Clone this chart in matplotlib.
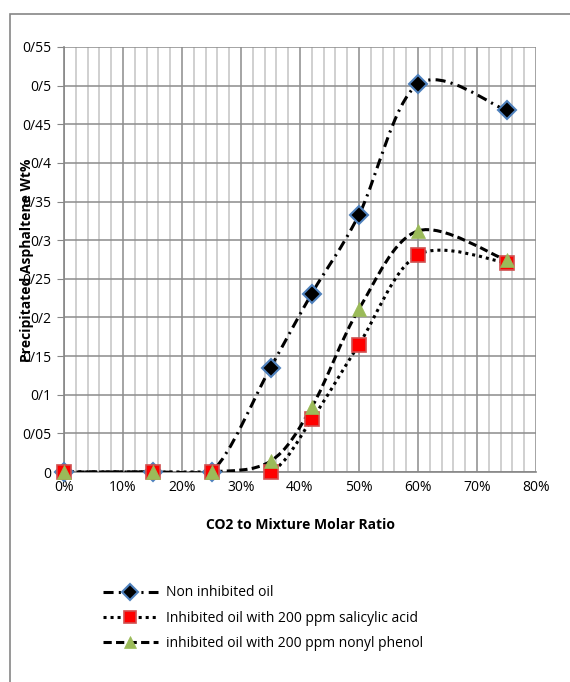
import matplotlib
matplotlib.use("Agg")
import matplotlib.pyplot as plt
from matplotlib.path import Path
from matplotlib.patches import PathPatch, Rectangle
from matplotlib.lines import Line2D
from matplotlib.ticker import MultipleLocator, FuncFormatter
import numpy as np

plt.rcParams['font.family'] = ['Open Sans', 'DejaVu Sans']

# data
co2_ratio = [0, 15, 25, 35, 42, 50, 60, 75]   # percent
non_inhibited = [0, 0, 0, 0.135, 0.231, 0.333, 0.502, 0.468]
salicylic = [0, 0, 0, 0, 0.068, 0.165, 0.281, 0.271]
nonyl_phenol = [0, 0, 0, 0.014, 0.084, 0.211, 0.312, 0.274]

labels = ["Non inhibited oil",
          "Inhibited oil with 200 ppm salicylic acid",
          "inhibited oil with 200 ppm nonyl phenol"]


def smooth_path(xs, ys):
    # Excel style smoothed line: cubic bezier segments through the points
    pts = np.column_stack([xs, ys]).astype(float)
    ext = np.vstack([pts[0], pts, pts[-1]])
    verts = [pts[0]]
    codes = [Path.MOVETO]
    for i in range(len(pts) - 1):
        p0, p1, p2, p3 = ext[i], ext[i + 1], ext[i + 2], ext[i + 3]
        verts += [p1 + (p2 - p0) / 6, p2 - (p3 - p1) / 6, p2]
        codes += [Path.CURVE4] * 3
    return Path(verts, codes)


fig = plt.figure(figsize=(5.7, 6.82), dpi=100)
ax = fig.add_axes([64 / 570, 1 - 472 / 682, 472 / 570, 425 / 682])

# outer chart frame (only top and left edges are inside the picture)
fig.patches.append(Rectangle((10 / 570, -0.05), 1.2, 1 - 14 / 682 + 0.05, transform=fig.transFigure,
                             fill=False, edgecolor='#868686', linewidth=1.2))

styles = [
    dict(ls=(0, (3.3, 1.7, 0.7, 1.7)), marker='D', mfc='black', mec='#4f81bd', ms=9, mew=1.5),
    dict(ls=(0, (1.0, 1.3)), marker='s', mfc='#ff0000', mec='#d05050', ms=10, mew=1.2),
    dict(ls=(0, (2.7, 1.4)), marker='^', mfc='#9bbb59', mec='#9bbb59', ms=10, mew=0.5),
]
series = [non_inhibited, salicylic, nonyl_phenol]

for ys, st in zip(series, styles):
    patch = PathPatch(smooth_path(co2_ratio, ys), facecolor='none', edgecolor='black',
                      linewidth=2.2, linestyle=st['ls'], capstyle='butt', zorder=3)
    ax.add_patch(patch)

for ys, st in zip(series, styles):
    ax.plot(co2_ratio, ys, linestyle='none', marker=st['marker'], mfc=st['mfc'], mec=st['mec'],
            ms=st['ms'], mew=st['mew'], zorder=4, clip_on=False)

ax.set_xlim(0, 80)
ax.set_ylim(0, 0.55)
ax.xaxis.set_major_locator(MultipleLocator(10))
ax.xaxis.set_minor_locator(MultipleLocator(2))
ax.yaxis.set_major_locator(MultipleLocator(0.05))
ax.xaxis.set_major_formatter(FuncFormatter(lambda v, p: f"{v:.0f}%"))
ax.yaxis.set_major_formatter(FuncFormatter(lambda v, p: "0" if abs(v) < 1e-9 else f"{v:.2f}".rstrip('0').replace('.', '/')))

ax.grid(which='major', color='#8c8c8c', linewidth=1.1)
ax.grid(which='minor', axis='x', color='#c4c4c4', linewidth=1.1)
ax.set_axisbelow(True)
for side in ['top', 'right']:
    ax.spines[side].set_visible(False)
for side in ['left', 'bottom']:
    ax.spines[side].set_color('#868686')
    ax.spines[side].set_linewidth(1.2)
ax.tick_params(axis='y', which='major', length=5, color='#868686', labelsize=10, pad=4)
ax.tick_params(axis='x', which='major', length=0, labelsize=10, pad=6)
ax.tick_params(axis='x', which='minor', length=0)

ax.set_xlabel("CO2 to Mixture Molar Ratio", fontsize=10, fontweight='bold', labelpad=16)
fig.text(27 / 570, 1 - 260 / 682, "Precipitated Asphaltene Wt%", rotation=90, fontsize=10,
         fontweight='bold', ha='center', va='center')

handles = [Line2D([], [], color='black', linewidth=2.2, linestyle=st['ls'], dash_capstyle='butt',
                  marker=st['marker'], mfc=st['mfc'], mec=st['mec'], ms=st['ms'] - 1, mew=st['mew'])
           for st in styles]
fig.legend(handles, labels, loc='upper left', bbox_to_anchor=(90 / 570, 1 - 573 / 682),
           frameon=False, fontsize=10, handlelength=4.0, handletextpad=0.55, labelspacing=0.75)

fig.savefig("out.png", dpi=100)
